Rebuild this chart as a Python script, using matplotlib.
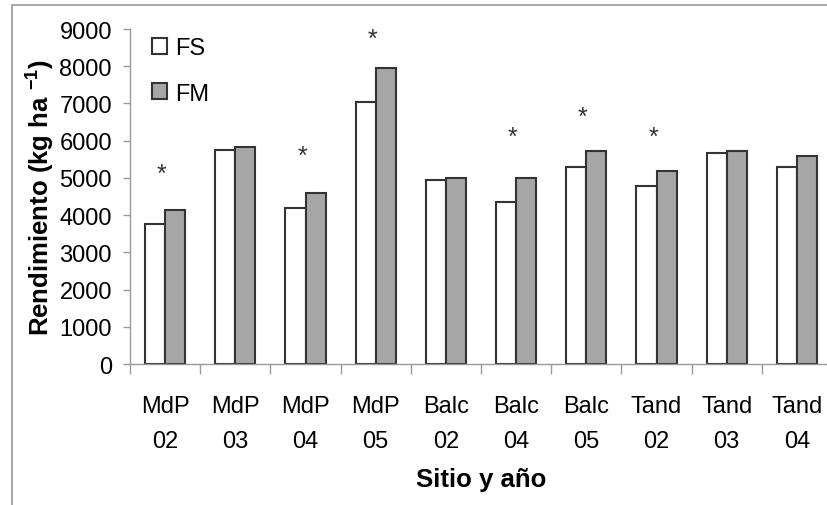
import matplotlib
matplotlib.use('Agg')
import matplotlib.pyplot as plt
from matplotlib.patches import Rectangle
from matplotlib.ticker import MultipleLocator, FixedLocator
import numpy as np

plt.rcParams['font.family'] = ['Liberation Sans', 'DejaVu Sans']
plt.rcParams['mathtext.fontset'] = 'custom'
plt.rcParams['mathtext.rm'] = 'Liberation Sans'
plt.rcParams['mathtext.bf'] = 'Liberation Sans:bold'

sitios = ['MdP\n02', 'MdP\n03', 'MdP\n04', 'MdP\n05', 'Balc\n02',
          'Balc\n04', 'Balc\n05', 'Tand\n02', 'Tand\n03', 'Tand\n04']
fs = [3760, 5760, 4185, 7050, 4945, 4360, 5300, 4770, 5660, 5300]
fm = [4130, 5820, 4600, 7940, 5000, 5000, 5710, 5180, 5710, 5590]
# significant differences (asterisk) and where the asterisk sits
sig_idx = [0, 2, 3, 5, 6, 7]
sig_y = [5120, 5600, 8740, 6100, 6630, 6090]

fig = plt.figure(figsize=(8.27, 5.06), dpi=100)
ax = fig.add_axes([130 / 827, 141 / 506, 702 / 827, 335 / 506])

x = np.arange(len(sitios))
w = 0.286
edge = '#333333'
ax.bar(x - w / 2, fs, w, color='white', edgecolor=edge, linewidth=1.5, label='FS')
ax.bar(x + w / 2, fm, w, color='#a6a6a6', edgecolor=edge, linewidth=1.5, label='FM')

for i, yy in zip(sig_idx, sig_y):
    ax.text(x[i] - 0.05, yy, '*', ha='center', va='center', fontsize=18, color='#333333')

ax.set_xlim(-0.5, len(sitios) - 0.5)
ax.set_ylim(0, 9000)
ax.yaxis.set_major_locator(MultipleLocator(1000))
ax.tick_params(axis='y', labelsize=17, length=5, width=1, color='#999999', pad=8)

ax.set_xticks(x)
ax.set_xticklabels(sitios, fontsize=17, linespacing=1.8)
ax.xaxis.set_minor_locator(FixedLocator(np.arange(-0.5, len(sitios), 1)))
ax.tick_params(axis='x', which='major', length=0, pad=22)
ax.tick_params(axis='x', which='minor', length=7, width=1, color='#999999')

for s in ['top', 'right']:
    ax.spines[s].set_visible(False)
for s in ['left', 'bottom']:
    ax.spines[s].set_color('#999999')
    ax.spines[s].set_linewidth(1)

ax.set_xlabel('Sitio y año', fontsize=18.5, fontweight='bold', labelpad=11)
ax.set_ylabel(r'Rendimiento (kg ha $\mathbf{^{-1}}$)', fontsize=18.5, fontweight='bold', labelpad=2)

ax.legend(loc='upper left', bbox_to_anchor=(152 / 827, 1 - 38 / 506),
          bbox_transform=fig.transFigure, frameon=False, fontsize=17,
          handlelength=0.65, handleheight=0.65, handletextpad=0.35,
          labelspacing=1.0, borderpad=0, borderaxespad=0)

# outer frame of the original figure
fig.add_artist(Rectangle((12 / 827, -0.2), 1.2, 1.2 - 6 / 506,
                         transform=fig.transFigure, fill=False,
                         edgecolor='#aaaaaa', linewidth=1.5))

fig.savefig('out.png', dpi=100)
